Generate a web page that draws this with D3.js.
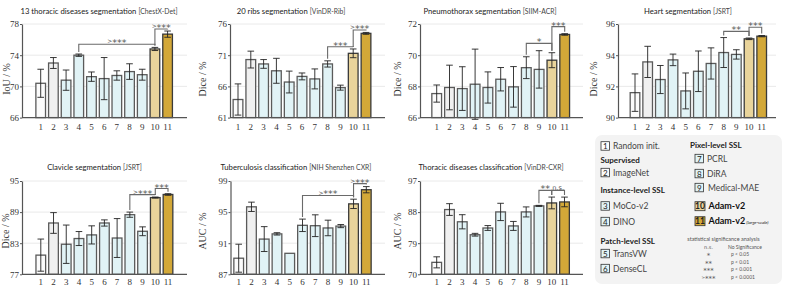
<!DOCTYPE html>
<html>
<head>
<meta charset="utf-8">
<script src="https://cdn.jsdelivr.net/npm/d3@7"></script>
<style>
  body { margin: 0; background: #fff; }
  svg text { font-family: Lato, "Open Sans", sans-serif; }
</style>
</head>
<body>
<svg id="chart" width="789" height="296"></svg>
<script>
// ---- data ----
const methods = [1, 2, 3, 4, 5, 6, 7, 8, 9, 10, 11];
const methodNames = ["Random init.", "ImageNet", "MoCo-v2", "DINO", "TransVW", "DenseCL",
  "PCRL", "DiRA", "Medical-MAE", "Adam-v2", "Adam-v2"];

const chestXDetMean = [70.4, 73.0, 70.8, 74.0, 71.25, 71.0, 71.4, 71.9, 71.5, 74.8, 76.7];
const chestXDetErr  = [1.8, 0.7, 1.3, 0.15, 0.6, 2.7, 0.6, 1.0, 0.7, 0.2, 0.4];
const chestXDetSig  = [[4, 10, 75.4, ">***"], [10, 11, 77.35, ">***"]];

const vinRibMean = [63.9, 70.3, 69.6, 68.5, 66.7, 67.6, 67.2, 69.6, 65.8, 71.3, 74.5];
const vinRibErr  = [2.5, 1.35, 0.7, 2.0, 1.75, 0.55, 1.6, 0.5, 0.4, 0.7, 0.15];
const vinRibSig  = [[8, 10, 72.35, "***"], [10, 11, 75.03, ">***"]];

const siimMean = [67.54, 67.93, 67.86, 68.14, 67.93, 68.46, 67.97, 69.2, 69.09, 69.68, 71.33];
const siimErr  = [0.55, 1.43, 1.4, 2.25, 1.0, 0.75, 1.3, 0.7, 1.2, 0.48, 0.05];
const siimSig  = [[8, 10, 70.76, "*"], [10, 11, 71.83, "***"]];

const heartMean = [91.6, 93.57, 92.44, 93.7, 91.71, 92.97, 93.47, 94.17, 94.05, 95.05, 95.22];
const heartErr  = [1.2, 1.0, 0.9, 0.37, 1.15, 1.3, 1.0, 0.96, 0.3, 0.05, 0.04];
const heartSig  = [[8, 10, 95.53, "**"], [10, 11, 95.79, "***"]];

const clavicleMean = [80.7, 86.9, 82.8, 83.9, 84.6, 86.9, 84.0, 88.5, 85.3, 91.8, 92.4];
const clavicleErr  = [3.1, 2.0, 3.7, 1.35, 1.75, 0.6, 3.75, 0.5, 0.85, 0.1, 0.15];
const clavicleSig  = [[8, 10, 92.38, ">***"], [10, 11, 93.54, "***"]];

const shenzhenMean = [89.07, 95.68, 91.53, 92.2, 89.7, 93.3, 93.25, 92.96, 93.2, 96.06, 97.88];
const shenzhenErr  = [1.8, 0.6, 1.6, 0.15, 0.0, 0.8, 1.4, 1.0, 0.2, 0.6, 0.4];
const shenzhenSig  = [[6, 10, 97.14, ">***"], [10, 11, 98.66, ">***"]];

const vinCxrMean = [73.46, 88.74, 85.2, 81.45, 83.4, 88.05, 84.0, 88.05, 89.8, 90.65, 90.94];
const vinCxrErr  = [1.6, 1.7, 2.05, 0.4, 0.7, 2.5, 1.3, 1.45, 0.15, 1.7, 1.4];
const vinCxrSig  = [[9, 10, 94.3, "**"], [10, 11, 94.3, "n.s."]];

const titles   = ["13 thoracic diseases segmentation", "20 ribs segmentation", "Pneumothorax segmentation",
  "Heart segmentation", "Clavicle segmentation", "Tuberculosis classification", "Thoracic diseases classification"];
const datasets = ["[ChestX-Det]", "[VinDR-Rib]", "[SIIM-ACR]", "[JSRT]", "[JSRT]", "[NIH Shenzhen CXR]", "[VinDR-CXR]"];
const yLabels  = ["IoU / %", "Dice / %", "Dice / %", "Dice / %", "Dice / %", "AUC / %", "AUC / %"];
const yTicks   = [[66, 70, 74, 78], [61, 66, 71, 76], [66, 68, 70, 72], [90, 92, 94, 96],
  [77, 83, 89, 95], [87, 91, 95, 99], [70, 79, 88, 97]];

const sigSymbols  = ["n.s.", "*", "**", "***", ">***"];
const sigMeanings = ["No Significance", "p < 0.05", "p < 0.01", "p < 0.001", "p < 0.0001"];

// ---- layout ----
const barFill = ["#fbfbfb", "#f0f0f0", "#e1f3f6", "#e1f3f6", "#e1f3f6", "#e1f3f6", "#e1f3f6",
  "#e1f3f6", "#e1f3f6", "#e9d49b", "#d3a838"];

const panels = [
  { mean: chestXDetMean, err: chestXDetErr, sig: chestXDetSig, axisX: 22, x0: 40.7, x1: 167.6, right: 187, tx: 99, lx: 6.5, row: 0 },
  { mean: vinRibMean, err: vinRibErr, sig: vinRibSig, axisX: 230, x0: 238, x1: 366, right: 385, tx: 291, lx: 203, row: 0 },
  { mean: siimMean, err: siimErr, sig: siimSig, axisX: 420, x0: 436.7, x1: 564.7, right: 583, tx: 490, lx: 398, row: 0 },
  { mean: heartMean, err: heartErr, sig: heartSig, axisX: 618, x0: 635, x1: 761.7, right: 776, tx: 688, lx: 594, row: 0 },
  { mean: clavicleMean, err: clavicleErr, sig: clavicleSig, axisX: 22, x0: 40.8, x1: 168, right: 187, tx: 94.5, lx: 6, row: 1 },
  { mean: shenzhenMean, err: shenzhenErr, sig: shenzhenSig, axisX: 230.5, x0: 238.7, x1: 366.3, right: 385, tx: 296, lx: 202.5, row: 1 },
  { mean: vinCxrMean, err: vinCxrErr, sig: vinCxrSig, axisX: 420, x0: 436.7, x1: 564.5, right: 583, tx: 491, lx: 398, row: 1 }
];
const rows = [
  { top: 24, bottom: 117.6, titleY: 13.5, tickY: 130, labelY: 79 },
  { top: 181, bottom: 274.3, titleY: 169.5, tickY: 285, labelY: 231 }
];

const svg = d3.select("#chart");

// asterisk labels: star glyphs sit high, so the ">" is lifted to line up with them
function sigLabel(sel, label, starSize) {
  if (label.indexOf("*") < 0) {
    sel.append("tspan").style("font-size", (starSize * 0.7) + "px").attr("dy", -starSize * 0.28).text(label);
    return;
  }
  const stars = label.replace(">", "");
  if (label[0] === ">") {
    sel.append("tspan")
      .style("font-size", (starSize * 0.62) + "px")
      .attr("dy", -starSize * 0.3)
      .text(">");
    sel.append("tspan")
      .style("font-size", starSize + "px")
      .attr("dy", starSize * 0.3)
      .text(stars);
  } else {
    sel.append("tspan").style("font-size", starSize + "px").text(stars);
  }
}

panels.forEach((p, i) => {
  const r = rows[p.row];
  const g = svg.append("g");
  const step = (p.x1 - p.x0) / 10;
  const x = d3.scaleBand()
    .domain(methods)
    .range([p.x0 - step / 2, p.x1 + step / 2])
    .paddingInner(0.24)
    .paddingOuter(0.12);
  const ticks = yTicks[i];
  const y = d3.scaleLinear()
    .domain([ticks[0], ticks[ticks.length - 1]])
    .range([r.bottom, r.top]);

  // grid
  g.selectAll(".grid")
    .data(ticks.slice(1))
    .enter()
    .append("line")
    .attr("x1", p.axisX)
    .attr("x2", p.right)
    .attr("y1", d => y(d))
    .attr("y2", d => y(d))
    .attr("stroke", "#e4e4e4")
    .attr("stroke-width", 0.8);

  // y axis
  const ya = g.append("g")
    .attr("transform", `translate(${p.axisX},0)`)
    .call(d3.axisLeft(y).tickValues(ticks).tickFormat(d3.format("d"))
      .tickSize(2).tickSizeOuter(0).tickPadding(1));
  ya.select(".domain").attr("stroke", "#555").attr("stroke-width", 1.2);
  ya.selectAll(".tick line").attr("stroke", "#555");
  ya.selectAll(".tick text")
    .style("font-family", "'Liberation Serif', 'DejaVu Serif', serif")
    .style("font-size", "9px")
    .attr("fill", "#333");

  // bars
  g.selectAll(".bar")
    .data(methods)
    .enter()
    .append("rect")
    .attr("x", d => x(d))
    .attr("width", x.bandwidth())
    .attr("y", d => y(p.mean[d - 1]))
    .attr("height", d => r.bottom - y(p.mean[d - 1]))
    .attr("fill", d => barFill[d - 1])
    .attr("stroke", d => d >= 10 ? "#3a3a3a" : "#5a5a5a")
    .attr("stroke-width", 1.3);

  // error bars
  const eb = g.selectAll(".err")
    .data(methods.filter(d => p.err[d - 1] > 0))
    .enter()
    .append("g")
    .attr("stroke", "#222")
    .attr("stroke-width", 0.9);
  const cx = d => x(d) + x.bandwidth() / 2;
  eb.append("line")
    .attr("x1", cx).attr("x2", cx)
    .attr("y1", d => y(p.mean[d - 1] + p.err[d - 1]))
    .attr("y2", d => y(p.mean[d - 1] - p.err[d - 1]));
  [1, -1].forEach(s => {
    eb.append("line")
      .attr("x1", d => cx(d) - 3.3).attr("x2", d => cx(d) + 3.3)
      .attr("y1", d => y(p.mean[d - 1] + s * p.err[d - 1]))
      .attr("y2", d => y(p.mean[d - 1] + s * p.err[d - 1]));
  });

  // x axis
  g.append("line")
    .attr("x1", p.axisX).attr("x2", p.right)
    .attr("y1", r.bottom).attr("y2", r.bottom)
    .attr("stroke", "#555").attr("stroke-width", 1.2);
  g.selectAll(".xt")
    .data(methods)
    .enter()
    .append("text")
    .attr("x", cx)
    .attr("y", r.tickY)
    .attr("text-anchor", "middle")
    .style("font-family", "'Liberation Serif', 'DejaVu Serif', serif")
    .style("font-size", "9px")
    .attr("fill", "#333")
    .text(d => d);

  // significance brackets
  p.sig.forEach(([a, b, level, label]) => {
    const yb = y(level);
    const ya1 = y(p.mean[a - 1] + p.err[a - 1]) - 2;
    const yb1 = y(p.mean[b - 1] + p.err[b - 1]) - 2;
    g.append("path")
      .attr("d", `M${cx(a)},${ya1}V${yb}H${cx(b)}V${yb1}`)
      .attr("fill", "none")
      .attr("stroke", "#6a6a6a")
      .attr("stroke-width", 1.1);
    const t = g.append("text")
      .attr("x", (cx(a) + cx(b)) / 2)
      .attr("y", yb + 2)
      .attr("text-anchor", "middle")
      .style("font-family", "'DejaVu Sans', sans-serif")
      .attr("fill", "#555");
    sigLabel(t, label, 9.5);
  });

  // title
  const t = g.append("text")
    .attr("x", p.tx)
    .attr("y", r.titleY)
    .attr("text-anchor", "middle")
    .attr("fill", "#222");
  t.append("tspan").style("font-size", "7.7px").text(titles[i] + " ");
  t.append("tspan").style("font-size", "6.8px").attr("fill", "#444").text(datasets[i]);

  // y label
  g.append("text")
    .attr("transform", `translate(${p.lx + 3},${r.labelY}) rotate(-90)`)
    .attr("text-anchor", "middle")
    .style("font-family", "'Liberation Serif', 'DejaVu Serif', serif")
    .style("font-size", "10px")
    .attr("fill", "#333")
    .text(yLabels[i]);
});

// ---- legend ----
const leg = svg.append("g");
leg.append("rect")
  .attr("x", 595).attr("y", 135)
  .attr("width", 187).attr("height", 149)
  .attr("rx", 7)
  .attr("fill", "#f3f3f3");

const legendSlots = [
  [601, 141.7], [601, 168.3], [601, 201.7], [601, 217.3], [601, 249.3], [601, 264.3],
  [695, 154.3], [695, 169.3], [695, 183.3], [695, 201.7], [695, 216.7]
];
const groupHeads = [
  ["Supervised", 600.5, 159.5], ["Instance-level SSL", 600.5, 189.5],
  ["Patch-level SSL", 600.5, 240.5], ["Pixel-level SSL", 690, 145]
];

leg.selectAll(".head")
  .data(groupHeads)
  .enter()
  .append("text")
  .attr("x", d => d[1])
  .attr("y", d => d[2] + 3)
  .style("font-size", "8px")
  .style("font-weight", "bold")
  .attr("fill", "#222")
  .text(d => d[0]);

const items = leg.selectAll(".item")
  .data(methods)
  .enter()
  .append("g")
  .attr("transform", d => `translate(${legendSlots[d - 1][0]},${legendSlots[d - 1][1]})`);
items.append("rect")
  .attr("width", d => d >= 10 ? 10 : 8.5)
  .attr("height", d => d >= 10 ? 9 : 8.5)
  .attr("fill", d => d === 2 ? "#fafafa" : d === 1 ? "#fff" : barFill[d - 1])
  .attr("stroke", "#333")
  .attr("stroke-width", 0.8);
items.append("text")
  .attr("x", d => d >= 10 ? 5 : 4.25)
  .attr("y", 7.2)
  .attr("text-anchor", "middle")
  .style("font-size", d => d >= 10 ? "8.5px" : "8px")
  .style("font-weight", d => d >= 10 ? "bold" : "normal")
  .attr("fill", "#222")
  .text(d => d);
const itemText = items.append("text")
  .attr("x", d => d >= 10 ? 13.5 : d === 9 ? 13 : 12)
  .attr("y", 7.3)
  .style("font-size", d => d >= 10 ? "9px" : "8.5px")
  .style("font-weight", d => d >= 10 ? "bold" : "normal")
  .attr("fill", d => d >= 10 ? "#111" : "#444")
  .text(d => methodNames[d - 1]);
itemText.filter(d => d === 11)
  .append("tspan")
  .style("font-size", "4.5px")
  .style("font-style", "italic")
  .style("font-weight", "normal")
  .text(" (large-scale)");

leg.append("text")
  .attr("x", 723.5).attr("y", 241)
  .attr("text-anchor", "middle")
  .style("font-size", "5.5px")
  .attr("fill", "#555")
  .text("statistical significance analysis");
sigSymbols.forEach((s, k) => {
  const yy = 248.5 + k * 7.6;
  const t = leg.append("text")
    .attr("x", 708.5).attr("y", yy + (k === 0 ? 0 : 2))
    .attr("text-anchor", "middle")
    .style("font-family", "'DejaVu Sans', sans-serif")
    .attr("fill", "#555");
  if (k === 0) t.style("font-size", "5px").text(s);
  else sigLabel(t, s, 7);
  leg.append("text")
    .attr("x", k === 0 ? 728 : 731).attr("y", yy)
    .style("font-size", "5px")
    .attr("fill", "#555")
    .text(sigMeanings[k]);
});
</script>
</body>
</html>
